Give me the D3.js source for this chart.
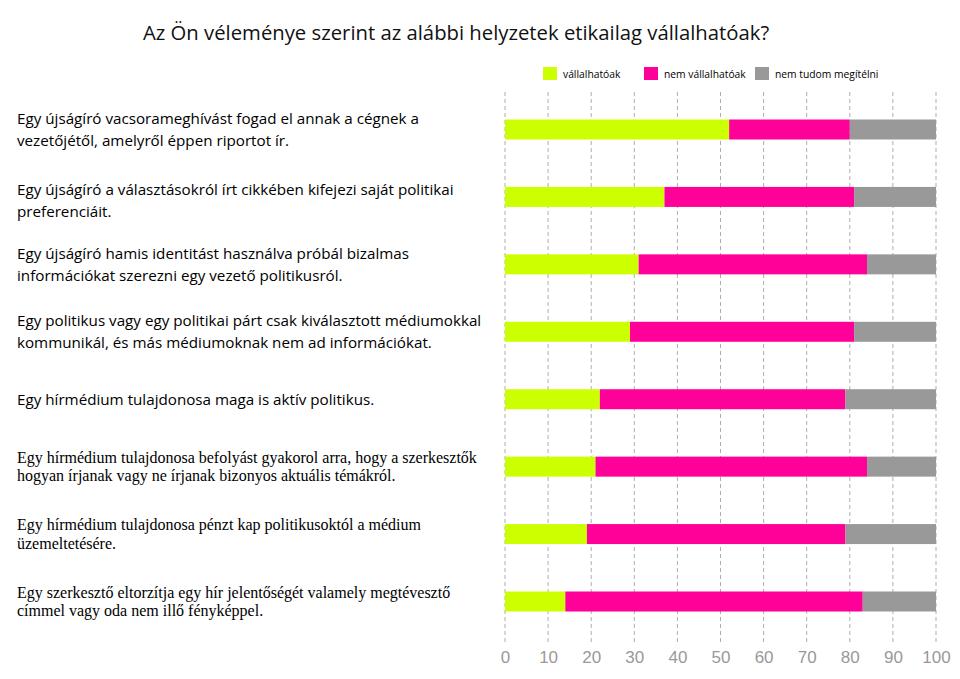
<!DOCTYPE html>
<html><head><meta charset="utf-8">
<script src="https://cdn.jsdelivr.net/npm/d3@7"></script>
<style>body{margin:0;background:#fff}svg{display:block}</style>
</head><body><svg id="c" width="960" height="679"></svg>
<script>
const title = "Az Ön véleménye szerint az alábbi helyzetek etikailag vállalhatóak?";
const categories = [
  ["Egy újságíró vacsorameghívást fogad el annak a cégnek a", "vezetőjétől, amelyről éppen riportot ír."],
  ["Egy újságíró a választásokról írt cikkében kifejezi saját politikai", "preferenciáit."],
  ["Egy újságíró hamis identitást használva próbál bizalmas", "információkat szerezni egy vezető politikusról."],
  ["Egy politikus vagy egy politikai párt csak kiválasztott médiumokkal", "kommunikál, és más médiumoknak nem ad információkat."],
  ["Egy hírmédium tulajdonosa maga is aktív politikus."],
  ["Egy hírmédium tulajdonosa befolyást gyakorol arra, hogy a szerkesztők", "hogyan írjanak vagy ne írjanak bizonyos aktuális témákról."],
  ["Egy hírmédium tulajdonosa pénzt kap politikusoktól a médium", "üzemeltetésére."],
  ["Egy szerkesztő eltorzítja egy hír jelentőségét valamely megtévesztő", "címmel vagy oda nem illő fényképpel."]
];
const serifLabel = [false, false, false, false, false, true, true, true];
const seriesNames = ["vállalhatóak", "nem vállalhatóak", "nem tudom megítélni"];
const acceptable    = [52, 37, 31, 29, 22, 21, 19, 14];
const notAcceptable = [28, 44, 53, 52, 57, 63, 60, 69];
const cannotJudge   = [20, 19, 16, 19, 21, 16, 21, 17];
const tickValues = [0, 10, 20, 30, 40, 50, 60, 70, 80, 90, 100];
const colors = ["#ccff00", "#ff0099", "#999999"];

const svg = d3.select("#c");
const x = d3.scaleLinear().domain([0, 100]).range([505, 936]);
const idx = d3.range(categories.length);
const y = d3.scalePoint().domain(idx).range([129.5, 601.5]);
const barH = 20;
const sansFont = "'Open Sans', sans-serif";
const serifFont = "'Liberation Serif', 'Times New Roman', serif";

// title
svg.append("text").attr("x", 143).attr("y", 40)
  .attr("font-family", sansFont).attr("font-size", 20.3).attr("fill", "#111")
  .text(title);

// grid
const gridTop = 92, gridBottom = 642;
svg.append("g").selectAll("line").data(tickValues).join("line")
  .attr("x1", d => x(d)).attr("x2", d => x(d))
  .attr("y1", gridTop).attr("y2", gridBottom)
  .attr("stroke", "#adadad").attr("stroke-width", 1).attr("stroke-dasharray", "4,3");

// axis labels
const axis = d3.axisBottom(x).tickValues(tickValues).tickSize(0).tickPadding(0);
const ax = svg.append("g").attr("transform", `translate(0,${651})`).call(axis);
ax.select(".domain").remove();
ax.selectAll("text").attr("font-family", "'Liberation Sans', Arial, sans-serif")
  .attr("font-size", 17).attr("fill", "#999").attr("dy", "0.71em");

// stacked bars
const stackData = idx.map(i => ({i, a: acceptable[i], b: notAcceptable[i], c: cannotJudge[i]}));
const stack = d3.stack().keys(["a", "b", "c"])(stackData);
svg.append("g").selectAll("g").data(stack).join("g")
  .attr("fill", (d, k) => colors[k])
  .selectAll("rect").data(d => d).join("rect")
  .attr("x", d => x(d[0])).attr("width", d => x(d[1]) - x(d[0]))
  .attr("y", d => y(d.data.i) - barH / 2).attr("height", barH);

// category labels
const lab = svg.append("g");
idx.forEach(i => {
  const lines = categories[i];
  const serif = serifLabel[i];
  const lh = serif ? 18.5 : 21.7;
  const fs = serif ? 16 : 15.2;
  const c = y(i) + (i === 1 ? 4 : 0);
  const t = lab.append("text")
    .attr("font-family", serif ? serifFont : sansFont)
    .attr("font-size", fs).attr("fill", "#000");
  lines.forEach((ln, j) => {
    const cy = c + (j - (lines.length - 1) / 2) * lh;
    t.append("tspan").attr("x", 17).attr("y", cy).attr("dy", "0.35em").text(ln);
  });
});

// legend
const leg = svg.append("g");
const legX = [543, 644, 755];
seriesNames.forEach((n, k) => {
  leg.append("rect").attr("x", legX[k]).attr("y", 67).attr("width", 14).attr("height", 13).attr("fill", colors[k]);
  leg.append("text").attr("x", legX[k] + 20).attr("y", 77.5)
    .attr("font-family", sansFont).attr("font-size", 10.3).attr("fill", "#000").text(n);
});
</script></body></html>
